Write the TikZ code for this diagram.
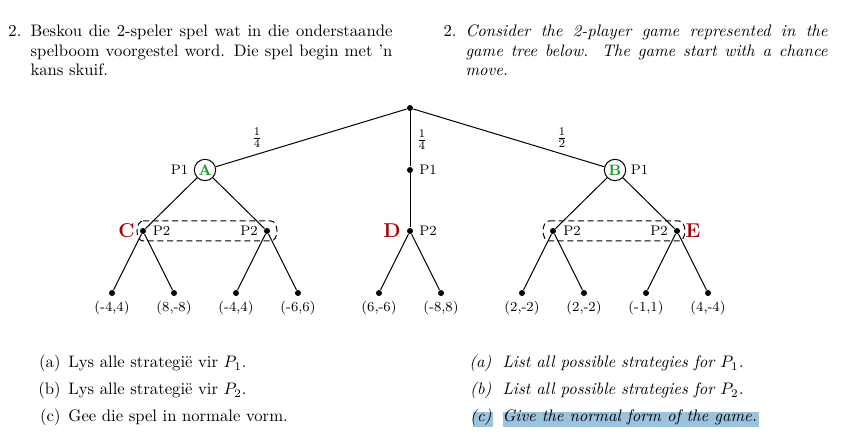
\documentclass[tikz,border=0pt]{standalone}
\definecolor{agreen}{RGB}{20,160,40}
\definecolor{ared}{RGB}{170,0,0}
\definecolor{hl}{RGB}{155,195,222}
\begin{document}
\begin{tikzpicture}[x=0.6pt,y=-0.6pt, line width=0.6pt,
  dot/.style={circle,fill,inner sep=0pt,minimum size=3.6pt},
  pnode/.style={circle,draw,inner sep=0pt,minimum size=12.8pt,font=\small\bfseries,text=agreen},
  lab/.style={font=\fontsize{8.3}{10}\selectfont, inner sep=0pt},
  frac/.style={font=\normalsize, inner sep=0pt},
  big/.style={font=\fontsize{12}{14}\selectfont\bfseries, text=ared, inner sep=0pt},
  txt/.style={anchor=base west, inner sep=0pt},
  itm/.style={anchor=base east, inner sep=0pt},
  infoset/.style={dash pattern=on 3.6pt off 2.2pt}]
\useasboundingbox (0,0) rectangle (860,446);

% top text
\node[txt] (n2l) at (8,37) {2.};
\node[txt] (l1) at (30,37) {\makebox[217.2pt][s]{Beskou die 2-speler spel wat in die onderstaande}};
\node[txt] (l2) at (30,56.5) {\makebox[217.2pt][s]{spelboom voorgestel word. Die spel begin met ’n}};
\node[txt] (l3) at (30,76) {kans skuif.};
\node[txt] (n2r) at (443,37) {2.};
\node[txt] (r1) at (465,37) {\itshape\makebox[217.2pt][s]{Consider the 2-player game represented in the}};
\node[txt] (r2) at (465,56.5) {\itshape\makebox[217.2pt][s]{game tree below. The game start with a chance}};
\node[txt] (r3) at (465,76) {\itshape move.};

% tree
\node[dot] (root) at (410,108) {};
\node[pnode] (A) at (205,170) {A};
\node[dot] (M) at (410,170) {};
\node[pnode] (B) at (615,170) {B};
\node[dot] (c1) at (143,231) {};
\node[dot] (c2) at (267,231) {};
\node[dot] (d) at (410,231) {};
\node[dot] (e1) at (553,231) {};
\node[dot] (e2) at (677,231) {};

\draw (root) -- (A);
\draw (root) -- (M);
\draw (root) -- (B);
\draw (A) -- (c1);
\draw (A) -- (c2);
\draw (M) -- (d);
\draw (B) -- (e1);
\draw (B) -- (e2);

\foreach \n/\p/\x/\t in {t1/c1/112/{(-4,4)}, t2/c1/174/{(8,-8)}, t3/c2/236/{(-4,4)}, t4/c2/298/{(-6,6)},
  t5/d/379/{(6,-6)}, t6/d/441/{(-8,8)}, t7/e1/522/{(2,-2)}, t8/e1/584/{(2,-2)}, t9/e2/646/{(-1,1)}, t10/e2/708/{(4,-4)}}{
  \node[dot] (\n) at (\x,293) {};
  \node[lab] (\n l) at (\x,308) {\t};
  \draw (\p) -- (\n);
}

% information sets
\draw[infoset] (143,221) -- (271,221) arc (90:-90:3.6pt and 6pt) -- (143,241) arc (270:90:3.6pt and 6pt) -- cycle;
\draw[infoset] (549,221) -- (679,221) arc (90:-90:3.6pt and 6pt) -- (549,241) arc (270:90:3.6pt and 6pt) -- cycle;

% labels
\node[lab] (pA) at (179.5,170) {P1};
\node[lab] (pM) at (428,170) {P1};
\node[lab] (pB) at (639.5,170) {P1};
\node[lab] (pc1) at (161.5,231) {P2};
\node[lab] (pc2) at (249,231) {P2};
\node[lab] (pd) at (428,231) {P2};
\node[lab] (pe1) at (572,231) {P2};
\node[lab] (pe2) at (659,231) {P2};
\node[big] (C) at (126.5,231) {C};
\node[big] (D) at (392,231) {D};
\node[big] (E) at (693,231) {E};
\node[frac] (f1) at (257,138) {$\frac{1}{4}$};
\node[frac] (f2) at (422,140) {$\frac{1}{4}$};
\node[frac] (f3) at (562,138) {$\frac{1}{2}$};

% bottom items
\fill[hl] (473,412) rectangle (493,427);
\fill[hl] (503,412) rectangle (759,427);
\node[itm] (la) at (61,368) {(a)};
\node[txt] (ta) at (68,368) {Lys alle strategië vir $P_1$.};
\node[itm] (lb) at (61,395) {(b)};
\node[txt] (tb) at (68,395) {Lys alle strategië vir $P_2$.};
\node[itm] (lc) at (61,422) {(c)};
\node[txt] (tc) at (68,422) {Gee die spel in normale vorm.};
\node[itm] (ra) at (492,368) {\itshape (a)};
\node[txt] (sa) at (502,368) {\itshape List all possible strategies for $P_1$.};
\node[itm] (rb) at (492,395) {\itshape (b)};
\node[txt] (sb) at (502,395) {\itshape List all possible strategies for $P_2$.};
\node[itm] (rc) at (492,422) {\itshape (c)};
\node[txt] (sc) at (502,422) {\itshape Give the normal form of the game.};
\end{tikzpicture}
\end{document}
